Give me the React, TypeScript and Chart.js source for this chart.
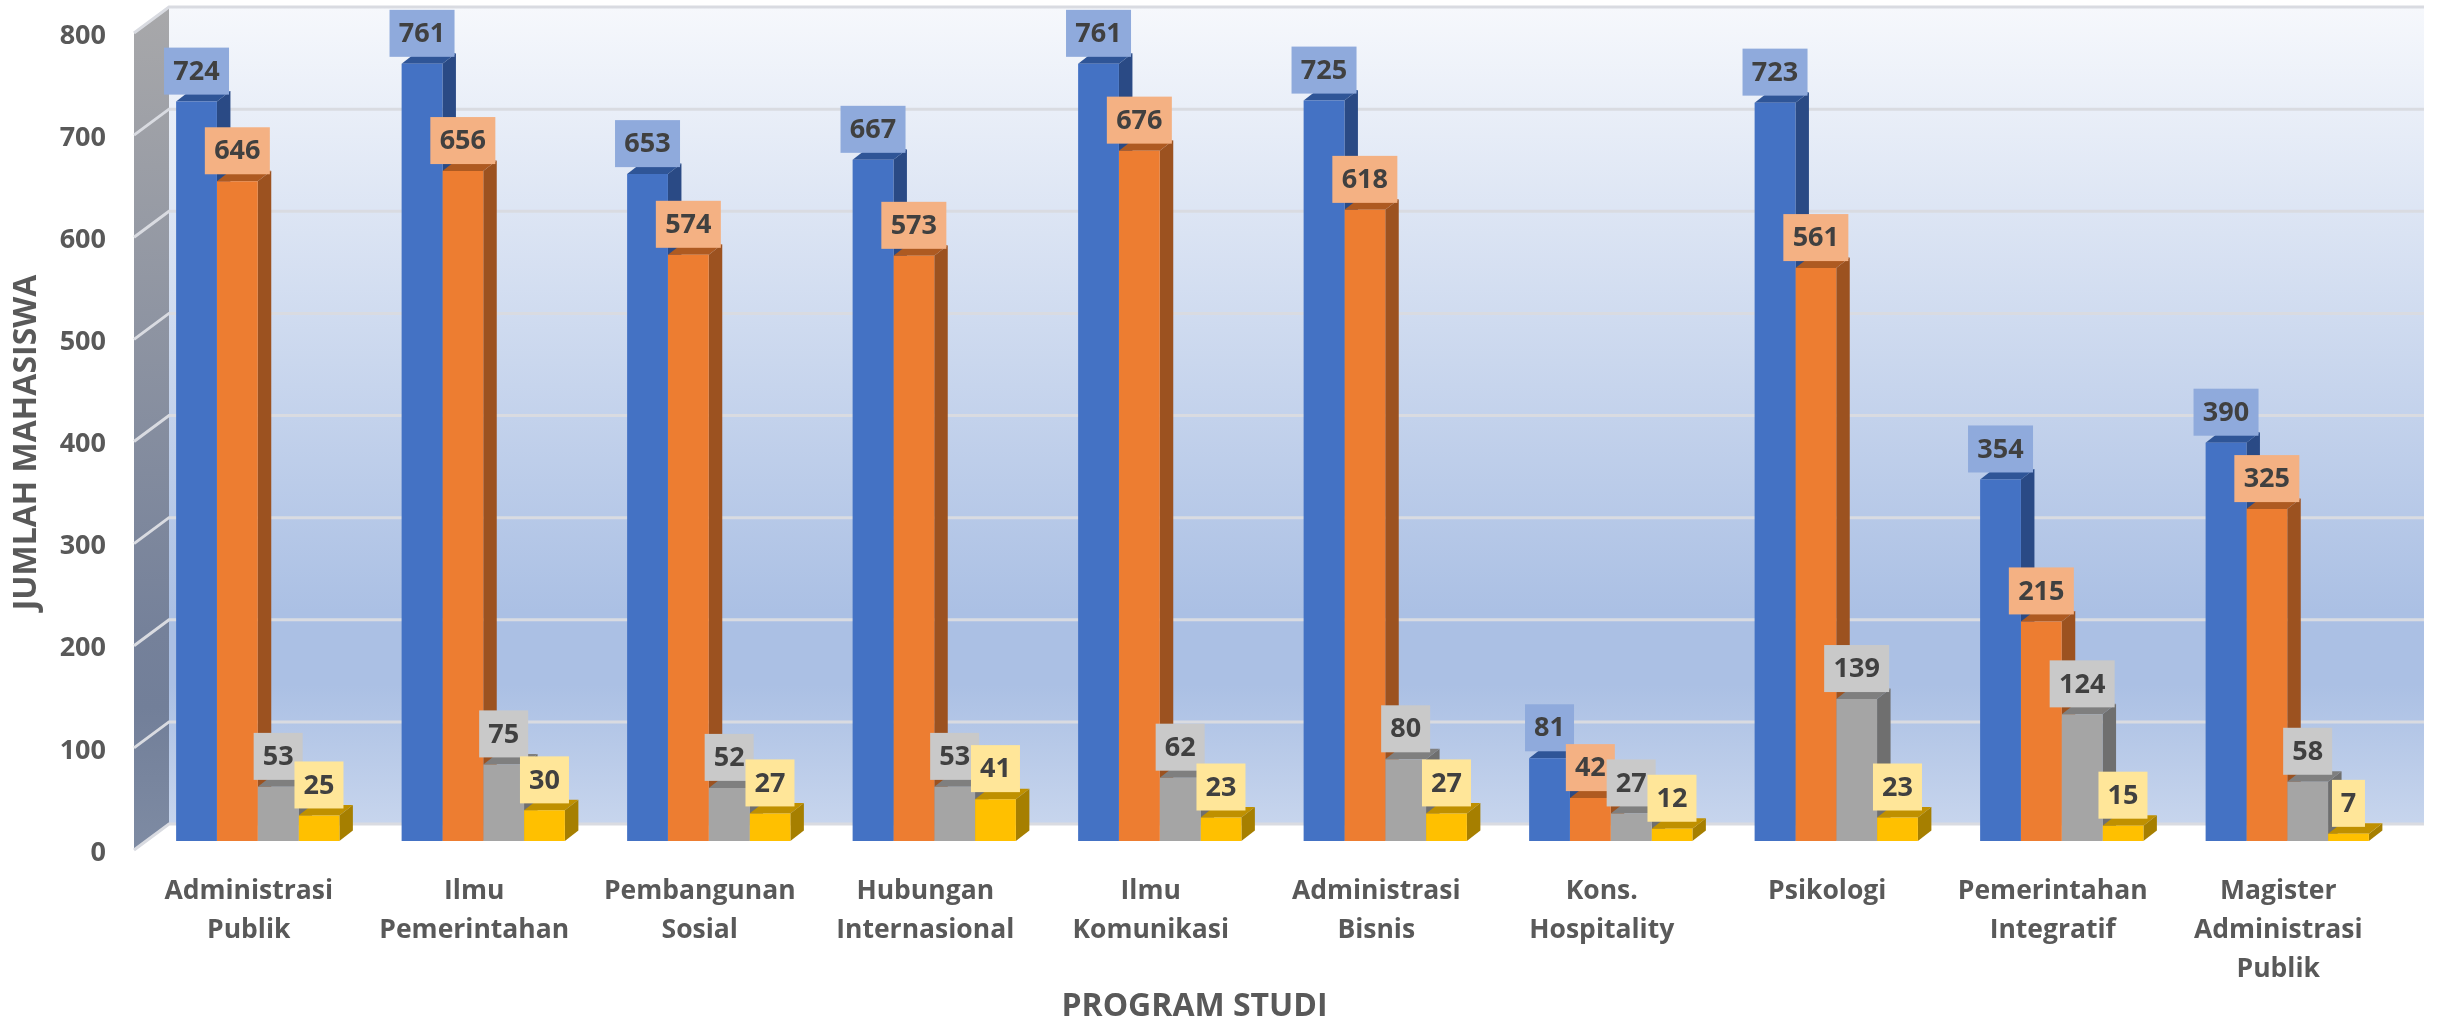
import React, { useEffect, useRef } from "react";
import { Chart, registerables } from "chart.js";

Chart.register(...registerables);

const categories: string[][] = [
  ["Administrasi", "Publik"],
  ["Ilmu", "Pemerintahan"],
  ["Pembangunan", "Sosial"],
  ["Hubungan", "Internasional"],
  ["Ilmu", "Komunikasi"],
  ["Administrasi", "Bisnis"],
  ["Kons.", "Hospitality"],
  ["Psikologi"],
  ["Pemerintahan", "Integratif"],
  ["Magister", "Administrasi", "Publik"],
];
const seriesA = [724, 761, 653, 667, 761, 725, 81, 723, 354, 390];
const seriesB = [646, 656, 574, 573, 676, 618, 42, 561, 215, 325];
const seriesC = [53, 75, 52, 53, 62, 80, 27, 139, 124, 58];
const seriesD = [25, 30, 27, 41, 23, 27, 12, 23, 15, 7];

const fronts = ["#4472C4", "#ED7D31", "#A5A5A5", "#FFC000"];
const sides = ["#2A4A85", "#9C5220", "#6F6F6F", "#A67F00"];
const tops = ["#2F5597", "#AE5A21", "#7F7F7F", "#BF9000"];
const boxes = ["#8FAADC", "#F4B183", "#C9C9C9", "#FFE699"];

const FONT = '"Open Sans", sans-serif';
const BAR_DX = 13.5;
const BAR_DY = -10.5;
const WALL_DX = 35;
const WALL_DY = -26;
const WALL_FRONT_X = 134;
const WALL_FRONT_DROP = 9;
const BACK_RIGHT = 2424;

function poly(ctx: CanvasRenderingContext2D, pts: number[][], fill: string | CanvasGradient) {
  ctx.beginPath();
  pts.forEach((p, i) => (i ? ctx.lineTo(p[0], p[1]) : ctx.moveTo(p[0], p[1])));
  ctx.closePath();
  ctx.fillStyle = fill;
  ctx.fill();
}

// Chart.js centres an axis title on its scale; the reference's titles sit off that centre.
function shiftTitle(scale: any, dx: number, dy: number) {
  const base = Object.getPrototypeOf(scale).drawTitle;
  scale.drawTitle = function () {
    const ctx = this.ctx;
    ctx.save();
    ctx.translate(dx, dy);
    base.call(this);
    ctx.restore();
  };
}

const scene = {
  id: "scene",
  beforeDraw(chart: any) {
    const { ctx } = chart;
    const y = chart.scales.y;
    const front = (v: number) => y.getPixelForValue(v) + WALL_FRONT_DROP;
    const back = (v: number) => front(v) + WALL_DY;
    const backX = WALL_FRONT_X + WALL_DX;
    const top = back(800);
    const bottom = back(0);

    ctx.save();
    const wall = ctx.createLinearGradient(0, top, 0, bottom);
    wall.addColorStop(0, "#F6F8FC");
    wall.addColorStop(0.74, "#ABC0E4");
    wall.addColorStop(0.83, "#ABC0E4");
    wall.addColorStop(1, "#C7D5ED");
    ctx.fillStyle = wall;
    ctx.fillRect(backX, top, BACK_RIGHT - backX, bottom - top);

    const side = ctx.createLinearGradient(0, top, 0, front(0));
    side.addColorStop(0, "#A8A8AA");
    side.addColorStop(0.74, "#75819A");
    side.addColorStop(0.83, "#727F99");
    side.addColorStop(1, "#7E8BA3");
    poly(ctx, [
      [WALL_FRONT_X, front(800)],
      [backX, back(800)],
      [backX, back(0)],
      [WALL_FRONT_X, front(0)],
    ], side);

    ctx.lineWidth = 3;
    for (const t of y.ticks) {
      ctx.strokeStyle = "#D9DBE1";
      ctx.beginPath();
      ctx.moveTo(WALL_FRONT_X, front(t.value));
      ctx.lineTo(backX, back(t.value));
      ctx.lineTo(BACK_RIGHT, back(t.value));
      ctx.stroke();
    }
    ctx.restore();
  },
  beforeDatasetsDraw(chart: any) {
    const { ctx } = chart;
    chart.data.datasets.forEach((_: any, d: number) => {
      const meta = chart.getDatasetMeta(d);
      meta.data.forEach((bar: any) => {
        const left = bar.x - bar.width / 2;
        const right = bar.x + bar.width / 2;
        const t = bar.y;
        const b = bar.base;
        poly(ctx, [
          [right, t],
          [right + BAR_DX, t + BAR_DY],
          [right + BAR_DX, b + BAR_DY],
          [right, b],
        ], sides[d]);
        poly(ctx, [
          [left, t],
          [right, t],
          [right + BAR_DX, t + BAR_DY],
          [left + BAR_DX, t + BAR_DY],
        ], tops[d]);
      });
    });
  },
  afterDatasetsDraw(chart: any) {
    const { ctx } = chart;
    ctx.save();
    ctx.font = `700 27px ${FONT}`;
    ctx.textAlign = "center";
    ctx.textBaseline = "middle";
    const H = 47;
    chart.data.datasets.forEach((ds: any, d: number) => {
      chart.getDatasetMeta(d).data.forEach((bar: any, i: number) => {
        const text = String(ds.data[i]);
        const w = text.length === 3 ? 65 : text.length === 2 ? 49 : 33;
        const cx = bar.x;
        const bottom = bar.y - 7;
        ctx.fillStyle = boxes[d];
        ctx.fillRect(cx - w / 2, bottom - H, w, H);
        ctx.fillStyle = "#404040";
        ctx.fillText(text, cx, bottom - H / 2 + 1);
      });
    });
    ctx.restore();
  },
};

export default function App() {
  const ref = useRef<HTMLCanvasElement>(null);
  useEffect(() => {
    if (!ref.current) return;
    const chart = new Chart(ref.current, {
      type: "bar",
      data: {
        labels: categories,
        datasets: [
          { label: "A", data: seriesA, backgroundColor: fronts[0] },
          { label: "B", data: seriesB, backgroundColor: fronts[1] },
          { label: "C", data: seriesC, backgroundColor: fronts[2] },
          { label: "D", data: seriesD, backgroundColor: fronts[3] },
        ],
      },
      options: {
        responsive: false,
        animation: false,
        layout: { padding: { left: 0, top: 24, right: 37, bottom: 0 } },
        plugins: { legend: { display: false }, tooltip: { enabled: false } },
        datasets: { bar: { categoryPercentage: 0.724, barPercentage: 1, borderWidth: 0 } },
        scales: {
          x: {
            grid: { display: false },
            border: { display: false },
            ticks: {
              color: "#595959",
              font: { family: FONT, weight: "700", size: 26.5, lineHeight: 39 / 26.5 },
              padding: 23,
              maxRotation: 0,
              autoSkip: false,
              labelOffset: -9,
            },
            title: {
              display: true,
              text: "PROGRAM STUDI",
              color: "#595959",
              font: { family: FONT, weight: "700", size: 32 },
              padding: { top: 0, bottom: 0 },
            },
            afterFit(scale: any) {
              scale.height = 185;
              scale.paddingLeft = 0;
              scale.paddingRight = 0;
              shiftTitle(scale, -78, 0);
            },
          },
          y: {
            min: 0,
            max: 800,
            grid: { display: false },
            border: { display: false },
            ticks: {
              stepSize: 100,
              color: "#595959",
              font: { family: FONT, weight: "700", size: 27 },
              padding: 31,
              labelOffset: 12,
            },
            title: {
              display: true,
              text: "JUMLAH MAHASISWA",
              color: "#595959",
              font: { family: FONT, weight: "700", size: 32 },
              padding: { top: 8, bottom: 0 },
            },
            afterFit(scale: any) {
              scale.width = 145;
              scale.paddingTop = 0;
              scale.paddingBottom = 0;
              shiftTitle(scale, 0, 10);
            },
          },
        },
      },
      plugins: [scene],
    } as any);
    return () => chart.destroy();
  }, []);
  return (
    <div style={{ position: "absolute", left: 0, top: 0, width: 2437, height: 1026, background: "#fff" }}>
      <canvas ref={ref} width={2437} height={1026} style={{ display: "block" }} />
    </div>
  );
}
